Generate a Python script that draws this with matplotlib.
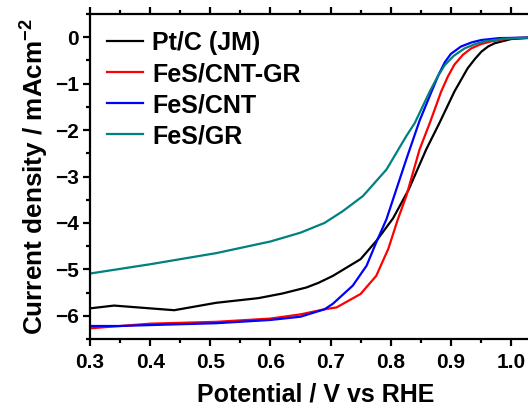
import matplotlib
matplotlib.use("Agg")
import matplotlib.pyplot as plt
from matplotlib.ticker import MultipleLocator

plt.rcParams['font.family'] = ['Liberation Sans', 'DejaVu Sans']
plt.rcParams['font.weight'] = 'bold'
plt.rcParams['mathtext.default'] = 'regular'

# LSV curves
ptc_x = [0.30, 0.34, 0.40, 0.44, 0.51, 0.58, 0.62, 0.66, 0.68, 0.704, 0.75, 0.776,
         0.804, 0.83, 0.859, 0.881, 0.906, 0.928, 0.94, 0.951, 0.962, 0.973, 1.00, 1.05]
ptc_y = [-5.84, -5.78, -5.84, -5.88, -5.72, -5.62, -5.52, -5.39, -5.29, -5.14, -4.78, -4.39,
         -3.90, -3.28, -2.42, -1.85, -1.17, -0.67, -0.47, -0.31, -0.20, -0.13, -0.04, 0.0]

cntgr_x = [0.30, 0.35, 0.40, 0.51, 0.60, 0.65, 0.69, 0.71, 0.75, 0.776, 0.796, 0.812,
           0.826, 0.848, 0.865, 0.884, 0.895, 0.906, 0.92, 0.934, 0.95, 0.967, 1.00, 1.05]
cntgr_y = [-6.27, -6.22, -6.17, -6.13, -6.06, -5.97, -5.86, -5.82, -5.53, -5.14, -4.56, -3.92,
           -3.42, -2.42, -1.85, -1.17, -0.85, -0.59, -0.38, -0.24, -0.15, -0.09, -0.02, 0.0]

cnt_x = [0.30, 0.35, 0.40, 0.51, 0.60, 0.65, 0.69, 0.704, 0.737, 0.760, 0.776, 0.793,
         0.826, 0.848, 0.868, 0.88, 0.890, 0.90, 0.917, 0.935, 0.951, 0.98, 1.05]
cnt_y = [-6.22, -6.22, -6.20, -6.16, -6.09, -6.02, -5.86, -5.74, -5.35, -4.92, -4.42, -3.92,
         -2.63, -1.80, -1.17, -0.80, -0.54, -0.36, -0.20, -0.11, -0.06, -0.02, 0.0]

gr_x = [0.30, 0.40, 0.51, 0.60, 0.65, 0.69, 0.72, 0.754, 0.793, 0.826, 0.840, 0.865,
        0.878, 0.890, 0.905, 0.923, 0.94, 0.956, 0.99, 1.05]
gr_y = [-5.09, -4.89, -4.65, -4.40, -4.21, -4.00, -3.75, -3.42, -2.85, -2.13, -1.85, -1.17,
        -0.85, -0.60, -0.40, -0.24, -0.15, -0.09, -0.03, 0.0]

labels = ["Pt/C (JM)", "FeS/CNT-GR", "FeS/CNT", "FeS/GR"]
colors = ["black", "#ff0000", "#0000ff", "#008080"]

fig = plt.figure(figsize=(5.28, 4.08), dpi=100)
ax = fig.add_axes([90/528, 69/408, 451/528, 325/408])

series = [(ptc_x, ptc_y), (cntgr_x, cntgr_y), (cnt_x, cnt_y), (gr_x, gr_y)]
for (xs, ys), lab, c in zip(series, labels, colors):
    ax.plot(xs, ys, color=c, lw=1.6, label=lab)

ax.set_xlim(0.3, 1.05)
ax.set_ylim(-6.5, 0.5)
ax.xaxis.set_minor_locator(MultipleLocator(0.05))
ax.yaxis.set_major_locator(MultipleLocator(1))
ax.yaxis.set_minor_locator(MultipleLocator(0.5))
ax.set_xticks([0.3, 0.4, 0.5, 0.6, 0.7, 0.8, 0.9, 1.0])
ax.set_xticklabels(["0.3", "0.4", "0.5", "0.6", "0.7", "0.8", "0.9", "1.0"])

for s in ax.spines.values():
    s.set_linewidth(1.6)
ax.tick_params(which='both', direction='out', width=1.6, labelsize=15, top=True)
ax.tick_params(which='major', length=5, pad=3)
ax.tick_params(which='minor', length=3)
ax.tick_params(axis='x', which='major', pad=5)

ax.set_xlabel("Potential / V vs RHE", fontsize=18, fontweight='bold', labelpad=8)
ax.set_ylabel("Current density / mAcm$^{-2}$", fontsize=18.8, fontweight='bold', labelpad=3)

ax.legend(loc='upper left', bbox_to_anchor=(0.0155, 0.978), frameon=False,
          fontsize=18, handlelength=1.44, handletextpad=0.36, labelspacing=0.28,
          borderaxespad=0)

fig.savefig("out.png", dpi=100)
